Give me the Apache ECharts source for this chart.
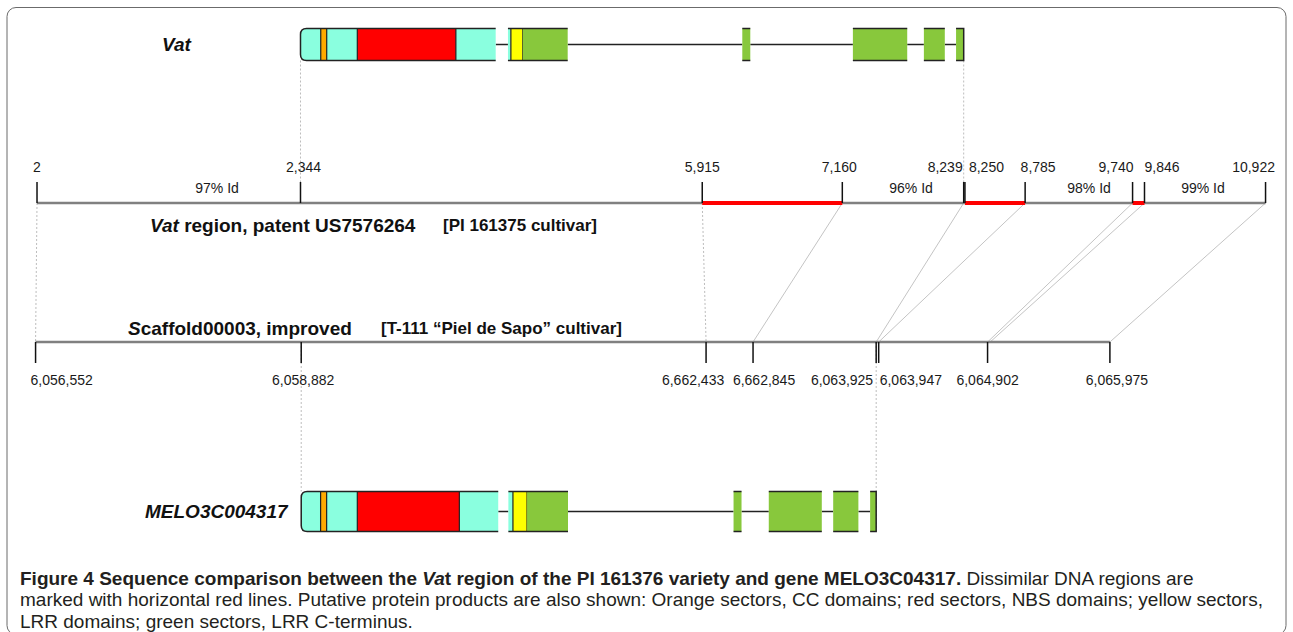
<!DOCTYPE html>
<html><head><meta charset="utf-8">
<script src="https://cdn.jsdelivr.net/npm/echarts/dist/echarts.min.js"></script>
<style>html,body{margin:0;padding:0;background:#fff}#c{width:1293px;height:632px}</style>
</head><body><div id="c"></div>
<script>
// ---------------- data ----------------
// Vat region (patent US7576264) coordinates, bp
const topTicks = [2, 2344, 5915, 7160, 8239, 8250, 8785, 9740, 9846, 10922];
const topTickLabels = ['2', '2,344', '5,915', '7,160', '8,239', '8,250', '8,785', '9,740', '9,846', '10,922'];
const topDissimilar = [[5915, 7160], [8250, 8785], [9740, 9846]];
const identityText = ['97% Id', '96% Id', '98% Id', '99% Id'];
const identityPos = [1602, 7771, 9353, 10366];

// Scaffold00003 coordinates, bp (labels as printed in the figure)
const scafTicks = [6056552, 6058882, 6062433, 6062845, 6063925, 6063947, 6064902, 6065975];
const scafTickLabels = ['6,056,552', '6,058,882', '6,662,433', '6,662,845', '6,063,925', '6,063,947', '6,064,902', '6,065,975'];

// alignment links: [Vat region bp, scaffold bp]
const alignLinks = [[2, 6056552], [5915, 6062433], [7160, 6062845], [8239, 6063925], [8785, 6063947], [9740, 6064902], [9846, 6064925], [10922, 6065975]];

// gene models: exons and protein sectors [start, end, sector]
const vatExons = [[2344, 4079], [4188, 4719], [6271, 6342], [7254, 7737], [7885, 8071], [8171, 8239]];
const vatSectors = [[2344, 4079, 'N'], [4188, 4214, 'N'], [4214, 4320, 'LRR'], [4320, 4719, 'C'], [6271, 6342, 'C'], [7254, 7737, 'C'], [7885, 8071, 'C'], [8171, 8239, 'C'], [2524, 2577, 'CC'], [2849, 3725, 'NBS']];
const meloExons = [[6058882, 6060610], [6060699, 6061222], [6062674, 6062744], [6062983, 6063448], [6063548, 6063769], [6063872, 6063925]];
const meloSectors = [[6058882, 6060610, 'N'], [6060699, 6060739, 'N'], [6060739, 6060863, 'LRR'], [6060863, 6061222, 'C'], [6062674, 6062744, 'C'], [6062983, 6063448, 'C'], [6063548, 6063769, 'C'], [6063872, 6063925, 'C'], [6059052, 6059105, 'CC'], [6059374, 6060269, 'NBS']];

// ---------------- layout / style ----------------
const FONT = "'Liberation Sans', Arial, Helvetica, sans-serif";
const CAPFONT = "'Liberation Sans', Arial, sans-serif";
const COLORS = { N: '#8affdf', CC: '#ffaa00', NBS: '#ff0000', LRR: '#ffff00', C: '#88c83c' };
const L = {
  vatY: 44.5, vatH: 32,
  topLabelY: 167, topTickTop: 182, topAxisY: 203, idY: 188, vatTitleY: 225,
  scafTitleY: 328, scafAxisY: 342, scafTickBot: 363, scafLabelY: 379.5,
  meloY: 511.5, meloH: 40
};
const topLabelPlace = [['center', 0], ['center', 3], ['center', 0], ['center', -3], ['right', -1], ['left', 4], ['center', 13], ['right', 1], ['left', 0], ['center', -12]];
const scafLabelPlace = [['left', -5], ['center', 2], ['center', -13], ['center', 11], ['right', -3], ['left', 1], ['center', 0], ['center', 7]];

const chart = echarts.init(document.getElementById('c'), null, { renderer: 'svg' });

function custom(xAxisIndex, items, draw, z) {
  return {
    type: 'custom', coordinateSystem: 'cartesian2d', xAxisIndex: xAxisIndex, yAxisIndex: 0,
    data: items.map((d, i) => [Array.isArray(d) ? d[0] : d, i]),
    renderItem: (params, api) => draw(items[params.dataIndex], params.dataIndex, api),
    z: z || 2, silent: true, animation: false, clip: false
  };
}
function P(api, x, y) { return api.coord([x, y]); }
function seg(api, x1, y1, x2, y2, style) {
  const a = P(api, x1, y1), b = P(api, x2, y2);
  return { type: 'line', shape: { x1: a[0], y1: a[1], x2: b[0], y2: b[1] }, style: style };
}
function txt(x, y, text, size, align, extra) {
  return { type: 'text', x: x, y: y, style: Object.assign({ text: text, fill: '#1a1a1a', fontSize: size, fontFamily: FONT, align: align, textAlign: align, verticalAlign: 'middle', textVerticalAlign: 'middle' }, extra || {}) };
}

function axisSeries(axis, ticks, labels, place, axisY, tickY, labelY) {
  return [
    custom(axis, [[ticks[0], ticks[ticks.length - 1]]], (d, i, api) => seg(api, d[0], axisY, d[1], axisY, { stroke: '#808080', lineWidth: 2.5 }), 2),
    custom(axis, ticks, (v, i, api) => {
      const p = P(api, v, labelY);
      return { type: 'group', children: [
        seg(api, v, tickY, v, axisY, { stroke: '#111', lineWidth: 1.5 }),
        txt(p[0] + place[i][1], p[1], labels[i], 14, place[i][0])
      ] };
    }, 4)
  ];
}

function geneSeries(axis, exons, sectors, yc, h) {
  const yt = yc - h / 2, yb = yc + h / 2;
  const introns = exons.slice(1).map((e, i) => [exons[i][1], e[0]]);
  const r = 6;
  return [
    custom(axis, introns, (d, i, api) => seg(api, d[0], yc, d[1], yc, { stroke: '#222', lineWidth: 1.5 }), 3),
    custom(axis, sectors, (d, i, api) => {
      const a = P(api, d[0], yt), b = P(api, d[1], yb);
      const isDomain = d[2] === 'CC' || d[2] === 'NBS' || d[2] === 'LRR';
      const first = d[0] === exons[0][0];
      return { type: 'rect', shape: { x: a[0], y: a[1], width: b[0] - a[0], height: b[1] - a[1], r: first ? [r, 0, 0, r] : 0 },
        style: { fill: COLORS[d[2]], stroke: isDomain ? '#222' : null, lineWidth: isDomain ? 1.2 : 0 } };
    }, 4),
    custom(axis, exons, (d, i, api) => {
      const a = P(api, d[0], yt), b = P(api, d[1], yb);
      const x1 = a[0], x2 = b[0], t = a[1], bt = b[1];
      let pd;
      if (i === 0) pd = `M${x1 + r} ${t}L${x2} ${t}M${x2} ${bt}L${x1 + r} ${bt}Q${x1} ${bt} ${x1} ${bt - r}L${x1} ${t + r}Q${x1} ${t} ${x1 + r} ${t}`;
      else if (i === exons.length - 1) pd = `M${x1} ${t}L${x2} ${t}L${x2} ${bt}L${x1} ${bt}`;
      else pd = `M${x1} ${t}L${x2} ${t}M${x1} ${bt}L${x2} ${bt}`;
      return { type: 'path', shape: { pathData: pd }, style: { fill: 'none', stroke: '#222', lineWidth: 1.5 } };
    }, 5)
  ];
}

const series = [].concat(
  // guide lines from the Vat gene ends to the region axis
  custom(0, [vatExons[0][0], vatExons[vatExons.length - 1][1]], (v, i, api) => seg(api, v, L.vatY + L.vatH / 2, v, L.topTickTop, { stroke: '#bdbdbd', lineWidth: 1, lineDash: [2, 2] }), 1),
  // guide lines from the scaffold axis to the MELO3C004317 gene ends
  custom(1, [meloExons[0][0], meloExons[meloExons.length - 1][1]], (v, i, api) => seg(api, v, L.scafAxisY, v, L.meloY - L.meloH / 2 + (i ? L.meloH : 0), { stroke: '#bdbdbd', lineWidth: 1, lineDash: [2, 2] }), 1),
  // alignment links between the two sequences
  custom(0, alignLinks, (d, i, api) => {
    const a = P(api, d[0], L.topAxisY);
    const bx = chart.convertToPixel({ xAxisIndex: 1 }, d[1]);
    const by = P(api, d[0], L.scafAxisY)[1];
    const vertical = Math.abs(bx - a[0]) < 4;
    return { type: 'line', shape: { x1: a[0], y1: a[1], x2: bx, y2: by },
      style: vertical ? { stroke: '#bdbdbd', lineWidth: 1, lineDash: [2, 2] } : { stroke: '#c4c4c4', lineWidth: 1 } };
  }, 1),
  axisSeries(0, topTicks, topTickLabels, topLabelPlace, L.topAxisY, L.topTickTop, L.topLabelY),
  custom(0, topDissimilar, (d, i, api) => seg(api, d[0], L.topAxisY, d[1], L.topAxisY, { stroke: '#ff0000', lineWidth: 4 }), 3),
  custom(0, identityPos, (v, i, api) => { const p = P(api, v, L.idY); return txt(p[0], p[1], identityText[i], 14, 'center'); }, 4),
  axisSeries(1, scafTicks, scafTickLabels, scafLabelPlace, L.scafAxisY, L.scafTickBot, L.scafLabelY),
  geneSeries(0, vatExons, vatSectors, L.vatY, L.vatH),
  geneSeries(1, meloExons, meloSectors, L.meloY, L.meloH)
);

function boldRich(size) {
  return {
    b: { fontFamily: FONT, fontSize: size, fontWeight: 'bold', fill: '#111' },
    bi: { fontFamily: FONT, fontSize: size, fontWeight: 'bold', fontStyle: 'italic', fill: '#111' },
    s: { fontFamily: FONT, fontSize: 17, fontWeight: 'bold', fill: '#111' }
  };
}
function capRich() {
  const base = { fontFamily: CAPFONT, fontSize: 19, lineHeight: 20, fill: '#231f20' };
  return {
    b: Object.assign({}, base, { fontWeight: 'bold' }),
    bi: Object.assign({}, base, { fontWeight: 'bold', fontStyle: 'italic' }),
    n: Object.assign({}, base, { fontWeight: 'normal' })
  };
}
function gtext(x, y, text, rich) {
  return { type: 'text', x: x, y: y, silent: true, style: { text: text, rich: rich, align: 'left', textAlign: 'left', verticalAlign: 'middle', textVerticalAlign: 'middle' } };
}

const option = {
  animation: false,
  grid: { left: 0, right: 0, top: 0, bottom: 0, containLabel: false },
  xAxis: [
    { type: 'value', min: -327, max: 11166, show: false },
    { type: 'value', min: 6056240, max: 6067581, show: false }
  ],
  yAxis: { type: 'value', min: 0, max: 632, inverse: true, show: false },
  series: series,
  graphic: [
    { type: 'rect', silent: true, shape: { x: 7, y: 7.5, width: 1279, height: 627, r: 9 }, style: { fill: 'none', stroke: '#6b6b6b', lineWidth: 1 }, z: 0 },
    gtext(162, L.vatY, '{bi|Vat}', boldRich(19)),
    gtext(145, L.meloY, '{bi|MELO3C004317}', boldRich(19)),
    gtext(150, L.vatTitleY, '{bi|Vat}{b| region, patent US7576264}', boldRich(19)),
    gtext(443, L.vatTitleY, '{s|[PI 161375 cultivar]}', boldRich(19)),
    gtext(128, L.scafTitleY, '{bi|S}{b|caffold00003, improved}', boldRich(19)),
    gtext(381, L.scafTitleY, '{s|[T-111 \u201cPiel de Sapo\u201d cultivar]}', boldRich(19)),
    gtext(20, 578, '{b|Figure 4 Sequence comparison between the }{bi|Va}{b|t region of the PI 161376 variety and gene MELO3C04317.}{n| Dissimilar DNA regions are}', capRich()),
    gtext(20, 599.5, '{n|marked with horizontal red lines. Putative protein products are also shown: Orange sectors, CC domains; red sectors, NBS domains; yellow sectors,}', capRich()),
    gtext(20, 621, '{n|LRR domains; green sectors, LRR C-terminus.}', capRich())
  ]
};
chart.setOption(option);
</script></body></html>
